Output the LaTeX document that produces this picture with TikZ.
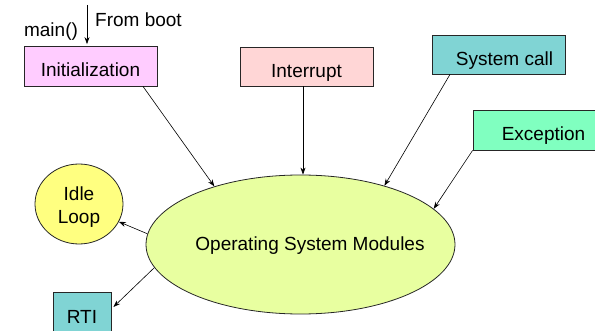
\documentclass[tikz,border=0pt]{standalone}
\usepackage{fontspec}
\setmainfont{Liberation Sans}
\usetikzlibrary{arrows.meta,calc,shapes.geometric}
\definecolor{initfill}{HTML}{FFCCFF}
\definecolor{intrfill}{HTML}{FFD6D6}
\definecolor{tealfill}{HTML}{80D4D4}
\definecolor{excfill}{HTML}{80FFC0}
\definecolor{idlefill}{HTML}{FFFF80}
\definecolor{osfill}{HTML}{E8FFA0}
\begin{document}
\begin{tikzpicture}[x=1pt,y=-1pt,
  every node/.style={font=\fontsize{19}{23.5}\selectfont, inner sep=0pt},
  box/.style={draw=black!85, line width=0.8pt, rectangle, text height=22pt, text depth=0pt},
  conn/.style={draw=black, line width=0.6pt, -{Stealth[length=7pt,width=5pt]}}]
  \useasboundingbox (0,0) rectangle (595,331);
  \clip (0,0) rectangle (595,331);

  % source boxes
  \node[box, fill=initfill, minimum width=133pt, minimum height=40pt] (init) at (90.5,66) {Initialization};
  \node[box, fill=intrfill, minimum width=133pt, minimum height=39pt] (intr) at (306.5,66.5) {Interrupt};
  \node[box, fill=tealfill, minimum width=133pt, minimum height=39pt] (sysc) at (498.5,54.5) {\hspace*{12pt}System call};
  \node[box, fill=excfill, minimum width=133pt, minimum height=40pt] (exc) at (539.5,130) {\hspace*{8pt}Exception};

  % central module and outputs
  \node[ellipse, draw=black!85, line width=0.8pt, fill=osfill, minimum width=309pt, minimum height=139pt] (os) at (300.5,244.5) {};
  \node (ostext) at (310,246) {Operating System Modules};
  \node[ellipse, draw=black!85, line width=0.8pt, fill=idlefill, minimum width=88pt, minimum height=80pt] (idle) at (79,204) {};
  \node[align=center] (idletext) at (79,207) {Idle\\Loop};
  \node[box, fill=tealfill, minimum width=58pt, minimum height=50pt, text height=13.5pt] (rti) at (82,317) {RTI};

  % boot entry
  \coordinate (boot) at (87,5);
  \node (mainlbl) at (51,32) {main()};
  \node (bootlbl) at (138.5,19.5) {From boot};
  \draw[conn] (boot) -- ($(init.north)+(-3.5,-1.5)$);

  % connectors into the module
  \draw[conn] ($(init.south)+(52.5,0)$) -- (os.146);
  \draw[conn] ($(intr.south)+(-3.5,0)$) -- ($(os.north)+(2.5,0)$);
  \draw[conn] ($(sysc.south)+(-48.5,0)$) -- (os.35);
  \draw[conn] (exc.south west) -- (os.15);

  % connectors out of the module
  \draw[conn] (os.176) -- (idle.336);
  \draw[conn] (os.189) -- ($(rti.east)+(2,-10)$);
\end{tikzpicture}
\end{document}
